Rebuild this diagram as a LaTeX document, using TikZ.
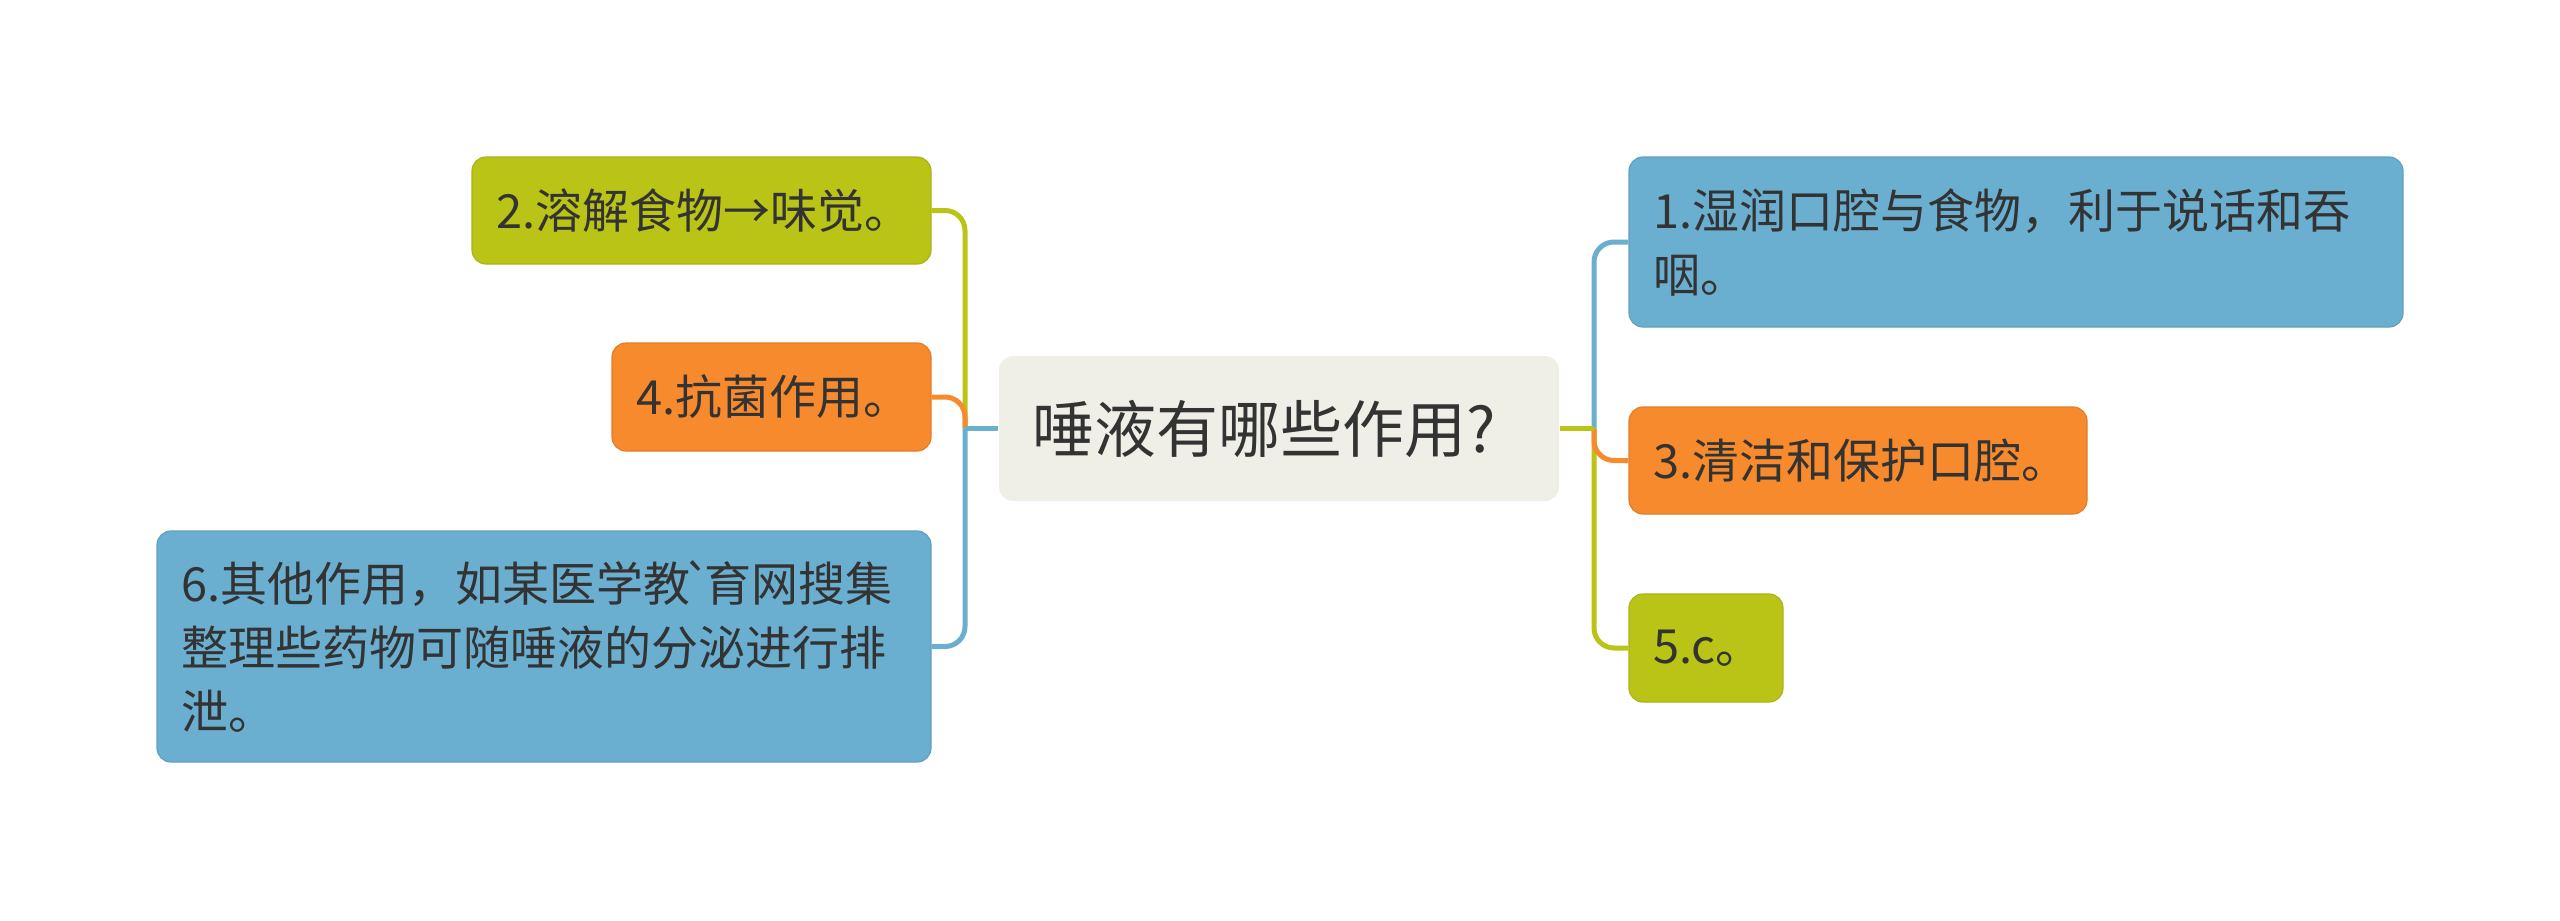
\documentclass[tikz,border=0pt]{standalone}
\usepackage{fontspec}
\setmainfont{Noto Sans CJK SC}[Ligatures=TeXOff]
\usepackage{tikz}
\definecolor{mmblue}{HTML}{6AAED0}
\definecolor{mmgreen}{HTML}{B9C416}
\definecolor{mmorange}{HTML}{F68A2C}
\definecolor{mmroot}{HTML}{EFEFE7}
\definecolor{mmtext}{HTML}{333333}
\tikzstyle{leaf}=[rectangle, rounded corners=7pt, inner xsep=12pt, inner ysep=4pt, align=left, text=mmtext, line width=0.6pt, font=\fontsize{23.5}{32}\selectfont]
\tikzstyle{link}=[line width=2.5pt, rounded corners=10pt]
\newcommand{\leaf}{\node[leaf]}

\begin{document}
\begin{tikzpicture}
\useasboundingbox (0,0) rectangle (1280pt,-460.5pt);

\node[leaf, fill=mmroot, inner xsep=16.5pt, text width=247pt, minimum height=72.5pt, font=\fontsize{31}{36}\selectfont] (root) at (639.5pt,-214.25pt) {唾液有哪些作用?};
    \coordinate (jl) at (482.5pt,-214.25pt);
    \coordinate (jr) at (797pt,-214.25pt);
    \leaf[fill=mmgreen, draw=mmgreen!92!black, text width=205.5pt, minimum height=53.5pt] (n2) at (350.75pt,-105.25pt) {2.溶解食物→味觉。};
    \leaf[fill=mmorange, draw=mmorange!92!black, text width=135.5pt, minimum height=54pt] (n4) at (385.75pt,-198.5pt) {4.抗菌作用。};
    \leaf[fill=mmblue, draw=mmblue!92!black, text width=363pt, minimum height=115.5pt] (n6) at (272pt,-323.25pt) {6.其他作用，如某医学教\makebox[0.3em][c]{`}育网搜集\\整理些药物可随唾液的分泌进行排\\泄。};
    \leaf[fill=mmblue, draw=mmblue!92!black, text width=363pt, minimum height=85pt] (n1) at (1008pt,-121pt) {1.湿润口腔与食物，利于说话和吞\\咽。};
    \leaf[fill=mmorange, draw=mmorange!92!black, text width=205pt, minimum height=53.5pt] (n3) at (929pt,-230.25pt) {3.清洁和保护口腔。};
    \leaf[fill=mmgreen, draw=mmgreen!92!black, text width=53pt, minimum height=54pt] (n5) at (853pt,-324pt) {5.c。};
    ;
    \draw[link, mmgreen] (jl) |- (n2.east);
    \draw[link, mmorange] (jl) |- (n4.east);
    \draw[link, mmblue] (jl) |- (n6.east);
    \draw[link, mmblue] (root.west) -- (jl);
    \draw[link, mmblue] (jr) |- (n1.west);
    \draw[link, mmgreen] (jr) |- (n5.west);
    \draw[link, mmorange] (jr) |- (n3.west);
    \draw[link, mmgreen] (root.east) -- (jr);
\end{tikzpicture}
\end{document}
